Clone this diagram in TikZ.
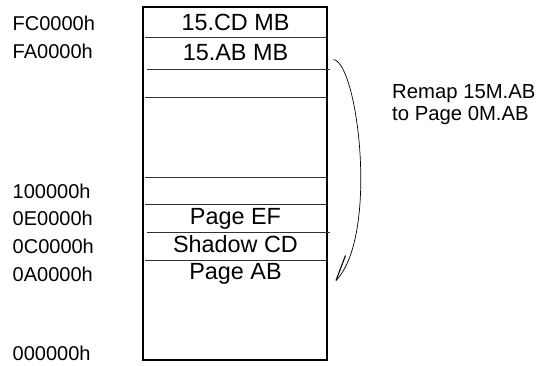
\documentclass[tikz,border=0pt]{standalone}
\usepackage{fontspec}
\setmainfont{Liberation Sans}
\begin{document}
\begin{tikzpicture}[x=1pt,y=-1pt,
  addr/.style={anchor=base west,inner sep=0pt,font=\fontsize{20}{24}\selectfont},
  cell/.style={anchor=base,inner sep=0pt,font=\fontsize{23.4}{28}\selectfont},
  note/.style={anchor=base west,inner sep=0pt,align=left,font=\fontsize{20.3}{22}\selectfont},
  frame/.style={draw=black,line width=1.4pt},
  divider/.style={draw=black!80,line width=0.9pt},
  remap/.style={draw=black,line width=0.7pt}]
\useasboundingbox (0,0) rectangle (539,366);

% memory column
\draw[frame] (143,7) rectangle (327,360);
\draw[divider] (145,37.5) -- (327,37.5);
\draw[divider] (147,69) -- (330,69);
\draw[divider] (145,97) -- (327,97);
\draw[divider] (145,177) -- (327,177);
\draw[divider] (145,204) -- (327,204);
\draw[divider] (147,232) -- (330,232);
\draw[divider] (145,260) -- (327,260);

% region names
\node[cell] (cd15) at (235.5,31) {15.CD MB};
\node[cell] (ab15) at (235.5,61) {15.AB MB};
\node[cell] (pef)  at (235.5,225) {Page EF};
\node[cell] (scd)  at (235.5,252.5) {Shadow CD};
\node[cell] (pab)  at (235.5,280) {Page AB};

% addresses
\node[addr] (aFC) at (12.5,31) {FC0000h};
\node[addr] (aFA) at (12.5,59) {FA0000h};
\node[addr] (a10) at (12.5,199) {100000h};
\node[addr] (a0E) at (12.5,226) {0E0000h};
\node[addr] (a0C) at (12.5,254) {0C0000h};
\node[addr] (a0A) at (12.5,281.5) {0A0000h};
\node[addr] (a00) at (12.5,361) {000000h};

% remap arrow
\coordinate (src) at (333.5,59.5);
\coordinate (dst) at (336,280.5);
\coordinate (barb) at (345.5,255.5);
\draw[remap] (src) .. controls (358,63) and (379,236) .. (dst);
\draw[remap,line width=1.1pt] (dst) -- (barb);

\node[note] (txt) at (392,121) {Remap 15M.AB\\to Page 0M.AB};
\end{tikzpicture}
\end{document}
